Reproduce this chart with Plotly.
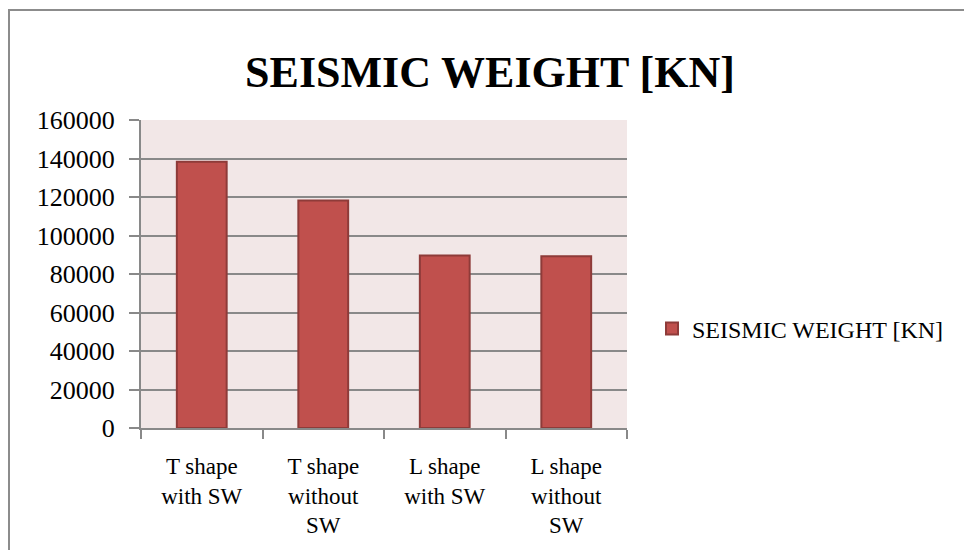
import plotly.graph_objects as go

# Seismic weight of the four building variants, in kN
categories = ["T shape<br>with SW", "T shape<br>without<br>SW", "L shape<br>with SW", "L shape<br>without<br>SW"]
seismic_weight = [138300, 118200, 89600, 89200]
y_ticks = [0, 20000, 40000, 60000, 80000, 100000, 120000, 140000, 160000]
series_name = "SEISMIC WEIGHT [KN]"

SERIF = "Liberation Serif"
GRID = "#898989"

fig = go.Figure()
fig.add_trace(go.Bar(
    x=categories,
    y=seismic_weight,
    name=series_name,
    marker=dict(color="#C0504D", line=dict(color="#8E3B39", width=2)),
    width=0.41,
))

L, R, T, B = 141, 337, 120, 122
W, H = 964, 550
pw, ph = W - L - R, H - T - B

# outer chart frame (left and top edges visible, rest runs off the page)
fig.add_shape(
    type="rect", xref="paper", yref="paper",
    x0=(9 - L) / pw, x1=(W + 20 - L) / pw,
    y0=(H - B - (H + 20)) / ph, y1=(H - B - 10) / ph,
    line=dict(color="#8C8C8C", width=2), fillcolor="rgba(0,0,0,0)", layer="below",
)

fig.update_layout(
    width=W, height=H,
    margin=dict(l=L, r=R, t=T, b=B),
    paper_bgcolor="white",
    plot_bgcolor="#F2E7E7",
    font=dict(family=SERIF, color="black", size=24),
    title=dict(
        text="<b>SEISMIC WEIGHT [KN]</b>",
        x=490 / W, xanchor="center",
        y=1 - 72 / H, yanchor="middle",
        font=dict(family=SERIF, size=44, color="black"),
    ),
    showlegend=True,
    legend=dict(
        x=(652 - L) / pw, xanchor="left",
        y=(H - B - 329) / ph, yanchor="middle",
        font=dict(family=SERIF, size=24, color="black"),
        bgcolor="rgba(0,0,0,0)",
        itemwidth=30,
    ),
    bargap=0.59,
)

fig.update_yaxes(
    range=[0, 160000],
    tickvals=y_ticks,
    ticktext=[str(v) for v in y_ticks],
    showgrid=True, gridcolor=GRID, gridwidth=2,
    showline=True, linecolor=GRID, linewidth=2,
    ticks="outside", ticklen=10, tickcolor=GRID, tickwidth=2,
    ticklabelstandoff=9,
    tickfont=dict(family=SERIF, size=26, color="black"),
    zeroline=False,
)
fig.update_xaxes(
    showline=True, linecolor=GRID, linewidth=2,
    ticks="outside", ticklen=9, tickcolor=GRID, tickwidth=2,
    tickson="boundaries",
    ticklabelstandoff=16,
    tickfont=dict(family=SERIF, size=23, color="black"),
    showgrid=False,
)

fig.write_html("out.html")
